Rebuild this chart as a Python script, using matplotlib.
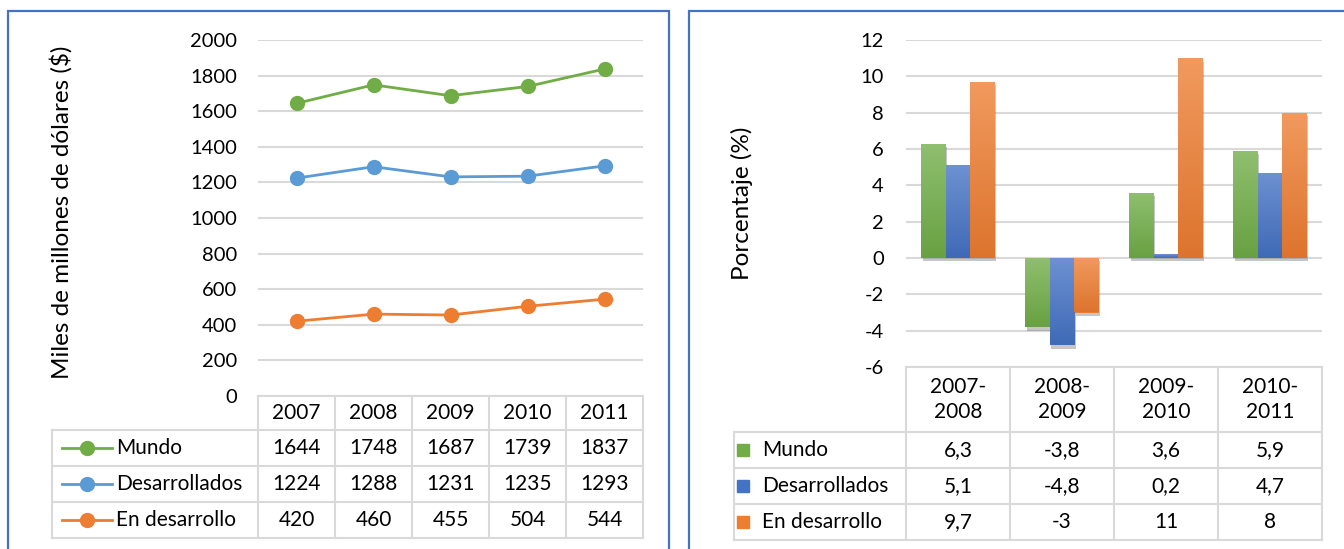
import matplotlib.pyplot as plt
import matplotlib.patheffects as pe
import numpy as np
from matplotlib.colors import to_rgb
from matplotlib.lines import Line2D
from matplotlib.patches import Rectangle

plt.rcParams["font.family"] = ["Lato", "DejaVu Sans"]
plt.rcParams["axes.unicode_minus"] = False

W, H = 1344, 549

# exports in billions of dollars
years = ["2007", "2008", "2009", "2010", "2011"]
mundo = [1644, 1748, 1687, 1739, 1837]
desarrollados = [1224, 1288, 1231, 1235, 1293]
en_desarrollo = [420, 460, 455, 504, 544]

# year-on-year growth, %
periods = ["2007-\n2008", "2008-\n2009", "2009-\n2010", "2010-\n2011"]
pct_mundo = [6.3, -3.8, 3.6, 5.9]
pct_desarrollados = [5.1, -4.8, 0.2, 4.7]
pct_en_desarrollo = [9.7, -3, 11, 8]

series = ["Mundo", "Desarrollados", "En desarrollo"]
line_colors = ["#70AD47", "#5B9BD5", "#ED7D31"]
bar_colors = ["#70AD47", "#4472C4", "#ED7D31"]
GRID = "#D9D9D9"
FS = 15
TICK_FS = 14.5
LABEL_FS = 17.5


def box(x0, y0, x1, y1):
    return [x0 / W, 1 - y1 / H, (x1 - x0) / W, (y1 - y0) / H]


def fx(x):
    return x / W


def fy(y):
    return 1 - y / H


def hline(fig, x0, x1, y):
    fig.add_artist(Line2D([fx(x0), fx(x1)], [fy(y), fy(y)], color=GRID, lw=1.5))


def vline(fig, x, y0, y1):
    fig.add_artist(Line2D([fx(x), fx(x)], [fy(y0), fy(y1)], color=GRID, lw=1.5))


def draw_table(fig, cols, head_top, rows, left, headers, values, fmt, key):
    # header cells sit only above the data columns
    hline(fig, cols[0], cols[-1], head_top)
    for y in rows:
        hline(fig, left, cols[-1], y)
    for x in cols:
        vline(fig, x, head_top, rows[-1])
    vline(fig, left, rows[0], rows[-1])
    for j, h in enumerate(headers):
        cx = (cols[j] + cols[j + 1]) / 2
        fig.text(fx(cx), fy((head_top + rows[0]) / 2), h, ha="center", va="center",
                 fontsize=FS, linespacing=1.3)
    for i, name in enumerate(series):
        cy = (rows[i] + rows[i + 1]) / 2
        lx = key(i, cy)
        fig.text(fx(lx), fy(cy), name, ha="left", va="center", fontsize=FS)
        for j, v in enumerate(values[i]):
            cx = (cols[j] + cols[j + 1]) / 2
            fig.text(fx(cx), fy(cy), fmt(v), ha="center", va="center", fontsize=FS)


fig = plt.figure(figsize=(W / 100, H / 100), dpi=100)

# panel frames
for x0, x1 in [(8, 669), (689, 1380)]:
    fig.add_artist(Rectangle((fx(x0), fy(570)), fx(x1 - x0), (570 - 11) / H,
                             fill=False, ec="#4472C4", lw=1.6, transform=fig.transFigure))

# ---- left: line chart ----
ax1 = fig.add_axes(box(258, 40, 643, 396))
x = np.arange(len(years))
for vals, c in zip([mundo, desarrollados, en_desarrollo], line_colors):
    ax1.plot(x, vals, color=c, lw=2.0, marker="o", ms=10, mec=c, mfc=c)
ax1.set_xlim(-0.5, len(years) - 0.5)
ax1.set_ylim(0, 2000)
ax1.set_yticks(range(0, 2001, 200))
ax1.set_xticks([])
ax1.tick_params(axis="y", length=0, pad=15, labelsize=TICK_FS)
ax1.grid(axis="y", color=GRID, lw=1.5)
ax1.set_axisbelow(True)
for s in ax1.spines.values():
    s.set_visible(False)
fig.text(fx(61), fy(212), "Miles de millones de dólares ($)", rotation=90,
         ha="center", va="center", fontsize=LABEL_FS)


def line_key(i, cy):
    c = line_colors[i]
    fig.add_artist(Line2D([fx(62), fx(112)], [fy(cy), fy(cy)], color=c, lw=2.0))
    fig.add_artist(Line2D([fx(87)], [fy(cy)], marker="o", ms=10, color=c))
    return 116


draw_table(fig, [258, 335, 412, 489, 566, 643], 396, [430, 466, 502, 538], 52,
           years, [mundo, desarrollados, en_desarrollo], lambda v: f"{v}", line_key)

# ---- right: grouped bars ----
ax2 = fig.add_axes(box(906, 40, 1322, 367))
xc = np.arange(len(periods))
bw = 0.235
for k, (vals, c) in enumerate(zip([pct_mundo, pct_desarrollados, pct_en_desarrollo], bar_colors)):
    bars = ax2.bar(xc + (k - 1) * bw, vals, bw, color=c, zorder=3,
                   path_effects=[pe.SimplePatchShadow(offset=(1, -2.5), shadow_rgbFace="#444444",
                                                      alpha=0.3), pe.Normal()])
    base = np.array(to_rgb(c))
    top = base + (1 - base) * 0.22
    bot = base * 0.93
    grad = np.linspace(top, bot, 64)[:, None, :]
    for b in bars:
        bx, by = b.get_x(), b.get_y()
        bh = b.get_height()
        y0, y1 = min(by, by + bh), max(by, by + bh)
        im = ax2.imshow(grad, extent=[bx, bx + bw, y0, y1], aspect="auto",
                        origin="upper", zorder=4, interpolation="bilinear")
        im.set_clip_path(b)
ax2.set_xlim(-0.5, len(periods) - 0.5)
ax2.set_ylim(-6, 12)
ax2.set_yticks(range(-6, 13, 2))
ax2.set_xticks([])
ax2.tick_params(axis="y", length=0, pad=16, labelsize=TICK_FS)
ax2.grid(axis="y", color=GRID, lw=1.5)
ax2.set_axisbelow(True)
for s in ax2.spines.values():
    s.set_visible(False)
fig.text(fx(742), fy(203), "Porcentaje (%)", rotation=90, ha="center", va="center",
         fontsize=LABEL_FS)


def square_key(i, cy):
    fig.add_artist(Rectangle((fx(737), fy(cy + 6)), fx(12), 12 / H,
                             color=bar_colors[i], transform=fig.transFigure))
    return 762


draw_table(fig, [906, 1010, 1114, 1218, 1322], 367, [432, 468, 504, 540], 734,
           periods, [pct_mundo, pct_desarrollados, pct_en_desarrollo],
           lambda v: f"{v:g}".replace(".", ","), square_key)

fig.savefig("out.png", dpi=100)
